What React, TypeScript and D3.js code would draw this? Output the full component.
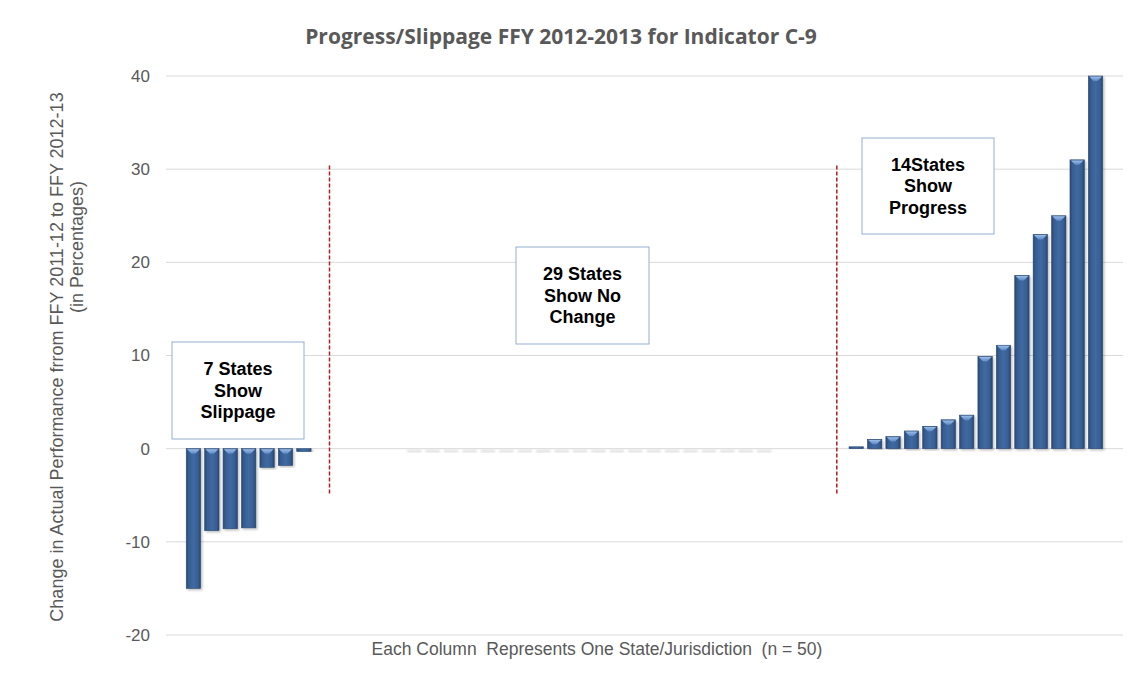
import React from 'react';
import * as d3 from 'd3';

// values (percentage-point change per state)
const slippage = [-15.0, -8.8, -8.6, -8.5, -2.0, -1.8, -0.3];
const noChange = [0, 0, 0, 0, 0, 0, 0, 0, 0, 0, 0, 0, 0, 0, 0, 0, 0, 0, 0, 0, 0, 0, 0, 0, 0, 0, 0, 0, 0];
// which of the no-change columns show a faint stub in the original
const noChangeStub = [0, 0, 0, 0, 0, 1, 1, 1, 1, 1, 1, 1, 1, 1, 1, 1, 1, 1, 1, 1, 1, 1, 1, 1, 1, 0, 0, 0, 0];
const progress = [0.2, 1.0, 1.3, 1.9, 2.4, 3.1, 3.6, 9.9, 11.1, 18.6, 23.0, 25.0, 31.0, 40.0];
const yTicks = [-20, -10, 0, 10, 20, 30, 40];

const title = 'Progress/Slippage FFY 2012-2013 for Indicator C-9';
const yTitle1 = 'Change in Actual Performance frrom FFY 2011-12 to FFY 2012-13';
const yTitle2 = '(in Percentages)';
const xTitle = 'Each Column  Represents One State/Jurisdiction  (n = 50)';

const notes = [
  { lines: ['7 States', 'Show', 'Slippage'], x0: 172, x1: 304, y0: 342, y1: 439 },
  { lines: ['29 States', 'Show No', 'Change'], x0: 516, x1: 649, y0: 247, y1: 344 },
  { lines: ['14States', 'Show', 'Progress'], x0: 862, x1: 994, y0: 138, y1: 234 },
];

const W = 1143;
const H = 674;

export default function App() {
  const values = [...slippage, ...noChange, ...progress];
  const stubs = [...slippage.map(() => 0), ...noChangeStub, ...progress.map(() => 0)];
  const idx = values.map((_, i) => i);

  const x = d3.scaleBand<number>().domain(idx).range([166, 1123]).paddingInner(0.22).paddingOuter(1.1);
  const y = d3.scaleLinear().domain([-20, 40]).range([635, 76]);
  const bw = x.bandwidth();

  // dashed separators: just after the slippage group, and inside the last no-change column
  const sepX = [x(slippage.length)! + bw, x(slippage.length + noChange.length - 1)! + bw / 2 - 1];

  const grey = '#595959';
  const font = 'Arial, "Liberation Sans", sans-serif';

  return (
    <svg width={W} height={H} style={{ position: 'absolute', left: 0, top: 0, background: '#fff' }}>
      <defs>
        <linearGradient id="barFill" x1="0" x2="1" y1="0" y2="0">
          <stop offset="0%" stopColor="#294870" />
          <stop offset="18%" stopColor="#385e93" />
          <stop offset="50%" stopColor="#3f6aa2" />
          <stop offset="82%" stopColor="#385e93" />
          <stop offset="100%" stopColor="#27456d" />
        </linearGradient>
        <linearGradient id="capFill" x1="0" x2="0" y1="0" y2="1">
          <stop offset="0%" stopColor="#9bbde8" />
          <stop offset="100%" stopColor="#5b88c4" />
        </linearGradient>
        <filter id="shadow" x="-30%" y="-10%" width="160%" height="120%">
          <feDropShadow dx="1.5" dy="1.5" stdDeviation="1.2" floodColor="#000" floodOpacity="0.25" />
        </filter>
        <filter id="blur">
          <feGaussianBlur stdDeviation="0.8" />
        </filter>
      </defs>

      <text x={561} y={44} textAnchor="middle" fontFamily='"Open Sans", sans-serif' fontWeight="bold" fontSize={21} fill={grey}>
        {title}
      </text>

      {yTicks.map((t) => (
        <g key={t}>
          <line x1={166} x2={1123} y1={y(t)} y2={y(t)} stroke="#d9d9d9" strokeWidth={1} />
          <text x={150} y={y(t)} dy="0.35em" textAnchor="end" fontFamily={font} fontSize={17} fill={grey}>
            {t}
          </text>
        </g>
      ))}

      {values.map((v, i) =>
        stubs[i] ? (
          <rect key={'s' + i} x={x(i)} y={y(0) + 1} width={bw} height={3} fill="#e2e2e2" filter="url(#blur)" />
        ) : null
      )}

      {values.map((v, i) => {
        if (v === 0) return null;
        const top = Math.min(y(v), y(0));
        const h = Math.abs(y(v) - y(0));
        const x0 = x(i)!;
        return (
          <g key={'b' + i}>
            <rect x={x0} y={top} width={bw} height={h} fill="url(#barFill)" stroke="#2b4a74" strokeWidth={0.6} filter="url(#shadow)" />
            {h > 5 && (
              <polygon
                points={`${x0 + 0.8},${top + 0.6} ${x0 + bw - 0.8},${top + 0.6} ${x0 + bw / 2 + 2},${top + 5} ${x0 + bw / 2 - 2},${top + 5}`}
                fill="url(#capFill)"
              />
            )}
          </g>
        );
      })}

      {sepX.map((sx, k) => (
        <line
          key={'d' + k}
          x1={sx}
          x2={sx}
          y1={y(30.4)}
          y2={y(-4.8)}
          stroke="#b01e23"
          strokeWidth={1.5}
          strokeDasharray="4 2"
        />
      ))}

      {notes.map((n, k) => {
        const cx = (n.x0 + n.x1) / 2;
        const cy = (n.y0 + n.y1) / 2;
        return (
          <g key={'n' + k}>
            <rect x={n.x0} y={n.y0} width={n.x1 - n.x0} height={n.y1 - n.y0} fill="#fff" stroke="#93afd0" strokeWidth={1} />
            {n.lines.map((l, j) => (
              <text
                key={j}
                x={cx}
                y={cy + (j - 1) * 21.5}
                dy="0.35em"
                textAnchor="middle"
                fontFamily={font}
                fontWeight="bold"
                fontSize={18}
                fill="#000"
              >
                {l}
              </text>
            ))}
          </g>
        );
      })}

      <text
        transform={`translate(57,357) rotate(-90)`}
        dy="0.35em"
        textAnchor="middle"
        fontFamily={font}
        fontSize={18}
        fill={grey}
      >
        {yTitle1}
      </text>
      <text
        transform={`translate(77,247) rotate(-90)`}
        dy="0.35em"
        textAnchor="middle"
        fontFamily={font}
        fontSize={18}
        fill={grey}
      >
        {yTitle2}
      </text>

      <text x={597} y={655} textAnchor="middle" fontFamily={font} fontSize={17.5} fill={grey} style={{ whiteSpace: 'pre' }}>
        {xTitle}
      </text>
    </svg>
  );
}
